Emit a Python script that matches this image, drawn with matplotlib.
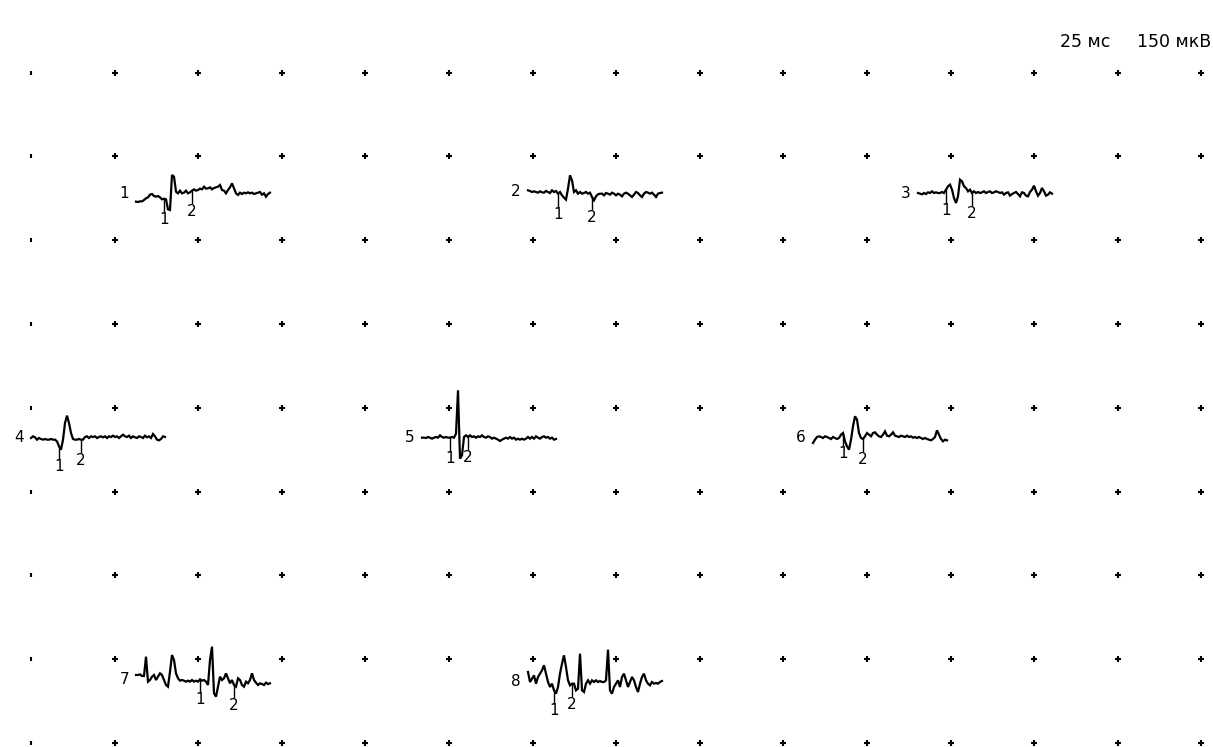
#!/usr/bin/env python3
"""Motor unit potentials 1-8 on a dotted grid, saved as out.png."""
import numpy as np
import matplotlib
matplotlib.use('Agg')
import matplotlib.pyplot as plt

# amplitudes in uV, one sample every 2 px, positive = up
mup_1 = [-26, -27, -25, -25, -21, -16, -13, -5, -3, -9, -11, -9, -13, -19, -17, -19, -49, -51,
         54, 49, 4, -1, 7, -1, 1, 7, -1, 2, 7, 11, 7, 9, 13, 11, 19, 13, 14, 17, 11, 15, 17, 19,
         24, 9, 7, -1, 9, 17, 29, 14, -1, -6, 1, -3, 1, -1, 2, -1, 1, -3, -1, 1, 3, -5, -1, -11, -3, 1]
mup_2 = [5, 3, 0, 2, 0, -2, 2, -1, -2, 3, 0, -3, 5, 0, 3, -5, 0, -10, -17, -23, 10, 50, 35, 0,
         5, -5, 0, -5, -3, 0, -5, -2, -15, -25, -13, -7, -5, -5, -10, -3, -5, -8, -2, -5, -10, -5,
         -8, -13, -5, -2, -5, -10, -15, -8, 0, -3, -10, -15, -5, 0, -2, -5, -2, -8, -15, -5, -3, -2]
mup_3 = [0, -2, -4, 0, -3, 2, 0, 5, 0, 2, 0, 0, 3, 0, 10, 20, 25, 10, -15, -30, -10, 40, 35, 20,
         15, 5, 10, 0, 5, 0, 3, 0, 2, 5, 0, 3, 5, 0, 2, 5, 3, 0, 2, -5, 0, 2, -8, -3, 0, 3, -3,
         -10, 2, 0, -8, -10, 3, 10, 22, 5, -8, 0, 15, 5, -8, -5, 2, -2]
mup_4 = [0, 5, 2, -5, 0, -3, -5, -3, -5, -5, -3, -5, -5, -10, -25, -35, -5, 45, 67, 45, 15, -3,
         -5, -5, -3, -5, -5, 3, 5, 0, 5, 3, 5, 0, 3, 5, 2, 5, 0, 5, 3, 7, 3, 5, 0, 5, 10, 5, 3, 7,
         0, 5, 2, 0, 5, 3, 0, 7, 2, 5, 0, 12, 5, -5, -7, -3, 5, 3]
mup_5 = [1, 1, 0, 3, 1, -2, 1, 3, 1, 8, 3, 1, 3, 1, 1, 3, 1, 13, 143, -62, -52, 3, 8, 3, 8, 3,
         5, 1, 5, 3, 8, 3, 1, 5, 3, -2, 1, -2, -5, -9, -5, -2, 1, -2, 3, -2, 1, -5, -2, -5, -2,
         -5, -2, 3, -2, 3, -2, 5, 1, -2, 3, 5, 1, 3, -2, 1, -5, -3]
mup_6 = [-15, -5, 3, 5, 3, 0, 5, 3, 0, -3, 3, 0, -3, 0, 10, 15, -10, -25, -35, -5, 35, 65, 55,
         15, 0, -3, 5, 15, 10, 5, 15, 17, 10, 5, 3, 10, 20, 7, 5, 10, 17, 7, 5, 3, 7, 5, 3, 7, 3,
         5, 1, 3, 0, 3, 0, -3, 0, -3, -5, -7, -3, 3, 23, 10, -3, -10, -5, -7]
mup_7 = [15, 15, 17, 12, 12, 70, -5, 0, 10, 15, 0, 10, 20, 15, 0, -15, -20, 25, 75, 60, 20, 5,
         -2, 0, -2, -5, -2, -5, 0, -5, -2, -5, 2, -2, 0, -5, -15, 60, 100, -40, -50, -20, 10, 0,
         5, 20, 5, -10, 0, -15, -20, 5, 0, -15, -20, -5, -10, 0, 20, 0, -8, -15, -10, -12, -15,
         -8, -12, -10]
mup_8 = [30, 0, 10, 20, -5, 15, 25, 35, 50, 25, 0, -15, -5, -25, -35, -15, 25, 55, 80, 45, 5,
         -10, -5, -5, -25, -20, 85, -25, -30, -5, 5, -5, 5, 0, 5, 0, 3, 0, 0, 5, 97, -25, -35,
         -15, -5, 5, -15, 15, 25, 5, -15, 0, 15, 5, -15, -30, -5, 15, 25, 5, -5, -10, 0, -5, -3,
         -5, 0, 3]

# cursor positions (sample index) for markers 1 and 2
marker_1 = [14, 15, 14, 14, 14, 15, 32, 13]
marker_2 = [28, 32, 27, 25, 23, 25, 49, 22]

trace_names = ['1', '2', '3', '4', '5', '6', '7', '8']
scale_labels = ['25 мс', '150 мкВ']

# layout: start x and baseline y of every trace, in pixels
origins = [(136, 193), (528, 192), (918, 193),
           (31, 438), (422, 438), (813, 438),
           (136, 680), (528, 682)]
UV_PER_PX = 3.0
PX_PER_SAMPLE = 2.0
TICK_PX = 12
W, H = 1213, 747


def main():
    plt.rcParams['font.family'] = ['DejaVu Sans']
    fig = plt.figure(figsize=(W / 100, H / 100), dpi=100)
    ax = fig.add_axes([0, 0, 1, 1])
    ax.set_xlim(0, W)
    ax.set_ylim(H, 0)
    ax.axis('off')

    # dotted grid of little crosses
    gx = 31 + 83.6 * np.arange(15)
    gy = 72.5 + 83.8 * np.arange(9)
    xx, yy = np.meshgrid(gx[1:], gy)
    ax.plot(xx.ravel(), yy.ravel(), ls='none', marker='+', ms=4.4, mew=1.5, color='black')
    ax.plot(np.full(len(gy), gx[0]), gy, ls='none', marker='|', ms=3.2, mew=1.5, color='black')

    traces = [mup_1, mup_2, mup_3, mup_4, mup_5, mup_6, mup_7, mup_8]
    for i, vals in enumerate(traces):
        x0, y0 = origins[i]
        v = np.array(vals, dtype=float)
        x = x0 + PX_PER_SAMPLE * np.arange(len(v))
        y = y0 - v / UV_PER_PX
        ax.plot(x, y, color='black', lw=1.6, solid_joinstyle='miter')
        ax.text(x0 - 7, y0, trace_names[i], ha='right', va='center', fontsize=11)
        for lab, idx in (('1', marker_1[i]), ('2', marker_2[i])):
            ty = y[idx]
            ax.plot([x[idx], x[idx]], [ty, ty + TICK_PX], color='black', lw=1.0)
            ax.text(x[idx], ty + TICK_PX + 1, lab, ha='center', va='top', fontsize=11)

    ax.text(1110, 42, scale_labels[0], ha='right', va='center', fontsize=12.5)
    ax.text(1211, 42, scale_labels[1], ha='right', va='center', fontsize=12.5)

    fig.savefig('out.png', dpi=100, facecolor='white')
    plt.close(fig)


if __name__ == '__main__':
    main()
